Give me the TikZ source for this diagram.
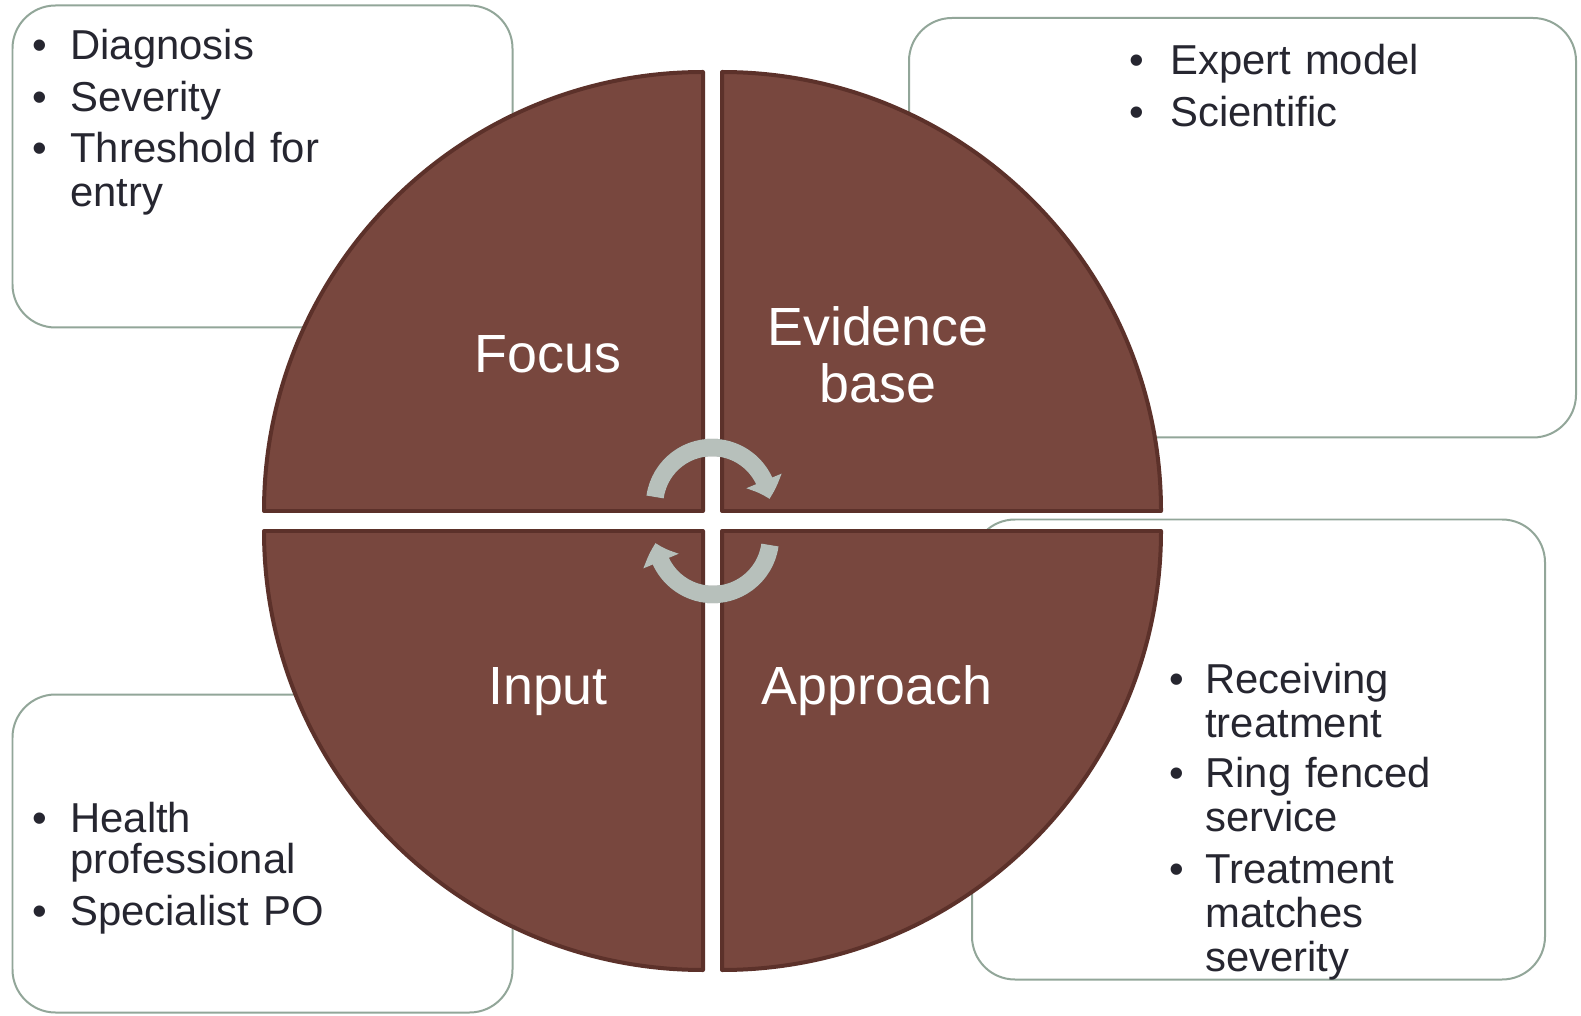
\documentclass[tikz,border=0pt]{standalone}
\usepackage{fontspec}
\setmainfont{Liberation Sans}
\usetikzlibrary{arrows.meta,bending}
\definecolor{quadfill}{HTML}{78473E}
\definecolor{quadline}{HTML}{5C312A}
\definecolor{boxline}{HTML}{92A699}
\definecolor{ink}{HTML}{262630}
\definecolor{cyclegrey}{HTML}{B7C0BB}

\begin{document}
\begin{tikzpicture}[x=0.02cm,y=0.02cm,
    panel/.style={draw=boxline,line width=0.04cm,fill=white,rounded corners=0.86cm},
    quad/.style={draw=quadline,fill=quadfill,line width=0.08cm,line join=round},
    quadtext/.style={text=white,anchor=base,inner sep=0pt,text width=8cm,align=center,font=\fontsize{30.6pt}{32.3pt}\selectfont},
    item/.style={text=ink,anchor=base west,inner sep=0pt,text width=7cm,align=left,font=\fontsize{23.8pt}{#1}\selectfont},
    item/.default=23.6pt,
    bullet/.style={text=ink,anchor=base,inner sep=0pt,font=\fontsize{23.8pt}{23.8pt}\selectfont},
    turn/.style={draw=cyclegrey,line width=0.35cm,-{Triangle[width=0.74cm,length=0.38cm,bend]}}]
  \useasboundingbox (0,0) rectangle (1581,1015);
  \fill[white] (0,0) rectangle (1581,1015);

  \draw[panel] (12.5,687.5) rectangle (512.5,1009.5);
  \draw[panel] (909,577.5) rectangle (1576,997);
  \draw[panel] (972,35.5) rectangle (1545,495.5);
  \draw[panel] (12.5,2.5) rectangle (512.5,320.5);

  \draw[quad] (703,504) -- (264,504) arc[start angle=180,end angle=90,radius=439] -- cycle;
  \draw[quad] (722,504) -- (722,943) arc[start angle=90,end angle=0,radius=439] -- cycle;
  \draw[quad] (722,484) -- (1161,484) arc[start angle=0,end angle=-90,radius=439] -- cycle;
  \draw[quad] (703,484) -- (703,45) arc[start angle=270,end angle=180,radius=439] -- cycle;

  \node[quadtext] (focus) at (548,642) {Focus};
  \node[quadtext] (evidence) at (878,669) {Evidence\\base};
  \node[quadtext] (input) at (548,311) {Input};
  \node[quadtext] (approach) at (877,311) {Approach};

  \coordinate (topc) at (712,510);
  \coordinate (botc) at (713,478);
  \begin{scope}[transparency group,opacity=.3,shift={(2,-3)}]
    \draw[turn,draw=black] ([shift={(172:57.5)}]topc) arc[start angle=172,end angle=6,radius=57.5];
    \draw[turn,draw=black] ([shift={(-8:57.5)}]botc) arc[start angle=-8,end angle=-174,radius=57.5];
  \end{scope}
  \draw[turn] ([shift={(172:57.5)}]topc) arc[start angle=172,end angle=6,radius=57.5];
  \draw[turn] ([shift={(-8:57.5)}]botc) arc[start angle=-8,end angle=-174,radius=57.5];

  \node[bullet] (diag-b) at (40,955) {\textbullet};
  \node[item=24.9pt] (diag) at (70,955) {Diagnosis};
  \node[bullet] (sev-b) at (40,903) {\textbullet};
  \node[item=24.9pt] (sev) at (70,903) {Severity};
  \node[bullet] (thr-b) at (40,852) {\textbullet};
  \node[item=24.9pt] (thr) at (70,852) {Threshold for\\entry};

  \node[bullet] (expert-b) at (1137,940) {\textbullet};
  \node[item] (expert) at (1170,940) {Expert model};
  \node[bullet] (sci-b) at (1137,888) {\textbullet};
  \node[item] (sci) at (1170,888) {Scientific};

  \node[bullet] (recv-b) at (1177,322) {\textbullet};
  \node[item=25.2pt] (recv) at (1205,322) {Receiving\\treatment};
  \node[bullet] (ring-b) at (1177,228) {\textbullet};
  \node[item=25.2pt] (ring) at (1205,228) {Ring fenced\\service};
  \node[bullet] (match-b) at (1177,132) {\textbullet};
  \node[item=25.2pt] (match) at (1205,132) {Treatment\\matches\\severity};

  \node[bullet] (health-b) at (40,183) {\textbullet};
  \node[item] (health) at (70,183) {Health\\professional};
  \node[bullet] (spec-b) at (40,90) {\textbullet};
  \node[item] (spec) at (70,90) {Specialist PO};
\end{tikzpicture}
\end{document}
